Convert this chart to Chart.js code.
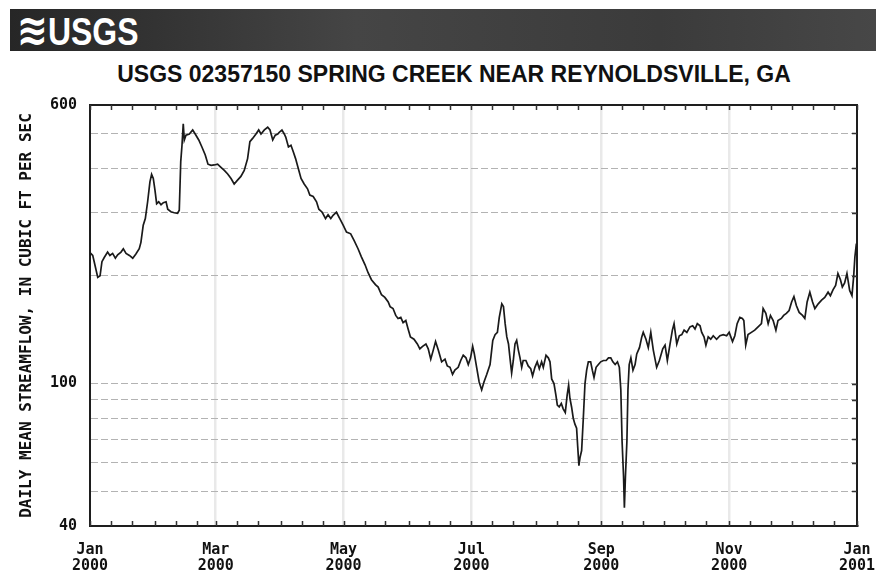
<!DOCTYPE html>
<html>
<head>
<meta charset="utf-8">
<script src="https://cdn.jsdelivr.net/npm/chart.js@4.4.1/dist/chart.umd.min.js"></script>
<style>
    html, body { margin: 0; padding: 0; background: #fff; }
    #wrap { position: relative; width: 876px; height: 571px; overflow: hidden; }
    #banner {
        position: absolute; left: 10px; top: 9px; width: 866px; height: 42px;
        background: linear-gradient(to right, #262626, #454545 40%, #3b3b3b 75%, #474747);
    }
    #logo {
        position: absolute; left: 7px; top: 0px; color: #fff; white-space: nowrap;
        font-family: 'Liberation Sans', Arial, sans-serif; font-weight: bold; font-size: 38px;
        line-height: 42px; transform: scaleX(0.84); transform-origin: left center;
    }
    #logo .waves { font-family: 'DejaVu Sans', sans-serif; font-size: 44px; margin-right: 0px; }
    #title {
        position: absolute; left: 0; top: 61px; width: 908px; text-align: center;
        font-family: 'Liberation Sans', Arial, sans-serif; font-weight: bold; font-size: 23px;
        color: #111;
    }
    canvas { position: absolute; left: 0; top: 0; }
</style>
</head>
<body>
<div id="wrap">
    <div id="banner"><div id="logo"><span class="waves">≋</span>USGS</div></div>
    <div id="title">USGS 02357150 SPRING CREEK NEAR REYNOLDSVILLE, GA</div>
    <canvas id="flowChart" width="876" height="571"></canvas>
</div>
<script>
// day of year 2000 (0 = Jan 1) and daily mean flow
const flowDays = [
    0, 1.3, 2.0, 3.7, 4.8, 5.7, 6.8, 8.4, 9.5, 10.8, 12.1, 13.2, 14.8, 15.9, 17.2, 18.8, 20.4, 21.9, 23.5, 24.3,
    25.4, 26.4, 27.5, 28.6, 29.4, 30.2, 31.0, 31.8, 32.8, 33.9, 35.0, 36.3, 37.1, 38.6, 40.2, 41.8, 42.6, 43.3, 43.9, 44.5,
    45.0, 45.8, 47.4, 49.0, 50.2, 51.9, 53.4, 55.0, 56.3, 57.8, 59.3, 60.9, 62.5, 64.1, 65.7, 67.3, 68.8, 70.4, 72.0, 73.6,
    75.2, 76.3, 77.6, 79.2, 80.5, 81.6, 83.2, 84.8, 85.9, 87.2, 88.4, 89.6, 90.3, 91.6, 92.7, 93.4, 94.7, 95.9, 97.0, 98.1,
    99.4, 100.7, 102.2, 103.8, 104.9, 106.5, 108.1, 109.2, 110.8, 112.4, 113.6, 114.9, 116.0, 117.6, 119.2, 120.8, 122.4, 124.4, 126.0, 127.9,
    129.5, 131.2, 132.7, 134.3, 136.2, 137.5, 139.1, 140.7, 142.3, 143.2, 144.6, 145.9, 147.0, 148.3, 149.4, 150.7, 151.8, 152.9, 154.6, 156.2,
    157.4, 158.7, 160.3, 161.4, 162.6, 163.8, 164.9, 166.2, 167.8, 169.4, 170.5, 171.8, 173.0, 174.1, 175.7, 176.9, 178.1, 179.4, 180.5, 181.6,
    182.6, 183.4, 184.5, 185.7, 186.9, 188.0, 189.3, 190.9, 192.2, 193.3, 194.4, 195.3, 196.5, 197.3, 198.1, 198.9, 199.7, 200.4, 201.2, 202.0,
    202.8, 203.6, 204.4, 205.2, 206.0, 206.7, 208.0, 209.1, 210.3, 211.2, 212.3, 213.4, 214.4, 215.5, 216.3, 217.6, 218.7, 219.5, 220.3, 221.4,
    222.3, 223.0, 223.9, 224.9, 225.8, 226.8, 227.7, 228.4, 229.0, 229.8, 230.6, 231.4, 232.2, 232.7, 233.3, 233.8, 234.6, 235.4, 236.2, 237.0,
    237.8, 238.9, 239.7, 240.5, 241.5, 242.6, 243.7, 245.0, 246.3, 247.4, 248.5, 249.5, 250.6, 251.7, 252.6, 253.3, 253.9, 254.6, 255.0, 255.5,
    256.2, 256.7, 257.3, 258.1, 259.1, 260.1, 260.9, 262.2, 263.3, 264.0, 265.3, 266.4, 267.6, 268.8, 270.4, 271.7, 273.3, 274.4, 275.5, 276.8,
    277.9, 278.7, 280.0, 281.2, 282.4, 283.5, 284.8, 286.3, 287.6, 288.7, 289.8, 291.1, 291.9, 293.0, 293.9, 295.0, 296.2, 297.4, 299.0, 300.6,
    302.2, 303.8, 305.0, 306.6, 307.7, 308.8, 310.1, 311.3, 312.0, 312.9, 314.0, 315.6, 317.2, 318.8, 320.4, 321.2, 322.5, 323.6, 324.7, 326.0,
    327.3, 328.3, 329.9, 331.0, 332.3, 333.6, 334.8, 335.9, 337.1, 338.4, 340.0, 341.1, 342.2, 343.5, 344.8, 345.9, 347.5, 349.1, 350.6, 352.2,
    353.3, 354.6, 355.8, 356.9, 358.1, 359.0, 360.1, 361.2, 362.5, 363.6, 364.4, 365.0, 365.7
];
const flowCfs = [
    232, 228, 219, 198, 200, 219, 225, 233, 228, 231, 224, 229, 233, 238, 231, 228, 224, 230, 238, 248,
    277, 289, 322, 366, 384, 374, 347, 318, 322, 316, 320, 322, 307, 302, 300, 299, 305, 417, 463, 532,
    479, 494, 498, 511, 498, 479, 458, 435, 410, 407, 408, 410, 402, 394, 385, 374, 361, 370, 379, 394,
    425, 474, 484, 498, 511, 498, 511, 520, 511, 479, 494, 498, 503, 511, 498, 488, 458, 463, 444, 425,
    399, 374, 361, 350, 336, 333, 322, 307, 301, 289, 296, 289, 295, 301, 289, 277, 265, 262, 251, 238,
    226, 215, 204, 195, 189, 186, 177, 174, 169, 164, 162, 155, 152, 153, 148, 150, 142, 135, 133, 129,
    125, 127, 129, 125, 117, 124, 131, 124, 115, 117, 112, 111, 106, 109, 111, 116, 120, 118, 113, 118,
    127, 121, 111, 101, 96, 101, 106, 113, 132, 137, 139, 153, 167, 164, 147, 135, 129, 118, 107, 116,
    129, 132, 124, 118, 111, 116, 116, 112, 110, 105, 111, 115, 110, 115, 111, 120, 118, 115, 103, 100,
    93, 87, 86, 88, 85, 83, 93, 99, 91, 86, 80, 77, 75, 67, 59, 62, 65, 80, 100, 109,
    115, 115, 109, 104, 111, 113, 115, 116, 116, 118, 118, 115, 113, 115, 111, 96, 69, 55, 45, 55,
    69, 96, 113, 118, 109, 113, 121, 126, 135, 139, 133, 126, 139, 124, 111, 116, 125, 128, 116, 129,
    141, 147, 129, 136, 137, 141, 139, 144, 145, 142, 147, 145, 139, 135, 128, 135, 133, 136, 133, 136,
    137, 136, 139, 131, 136, 147, 153, 152, 150, 128, 137, 139, 141, 144, 147, 162, 157, 147, 155, 150,
    141, 150, 152, 155, 157, 160, 169, 175, 165, 158, 155, 152, 169, 180, 169, 162, 167, 171, 174, 180,
    176, 183, 188, 203, 195, 186, 191, 203, 182, 176, 199, 226, 246
];

const monthStarts = [0, 31, 60, 91, 121, 152, 182, 213, 244, 274, 305, 335, 366];
const labeledDays = [0, 60, 121, 182, 244, 305, 366];
const labeledText = [['Jan', '2000'], ['Mar', '2000'], ['May', '2000'], ['Jul', '2000'], ['Sep', '2000'], ['Nov', '2000'], ['Jan', '2001']];
const yTicks = [40, 50, 60, 70, 80, 90, 100, 200, 300, 400, 500, 600];
const yLabeled = [40, 100, 600];

// minor tick marks on the 1st, 11th and 21st of each month
const minorDays = [];
monthStarts.slice(0, -1).forEach(d => { minorDays.push(d, d + 10, d + 20); });
minorDays.push(366);

const monoFont = { family: "'DejaVu Sans Mono', monospace", weight: 'bold', size: 15, lineHeight: 1.07 };

// small tick marks pointing into the plot from the top, bottom and right frame
const innerTicks = {
    id: 'innerTicks',
    afterDatasetsDraw(chart) {
        const { ctx, chartArea: a, scales } = chart;
        ctx.save();
        ctx.strokeStyle = '#333';
        ctx.lineWidth = 1.5;
        ctx.beginPath();
        scales.x.ticks.forEach(t => {
            const px = Math.round(scales.x.getPixelForValue(t.value)) + 0.5;
            ctx.moveTo(px, a.bottom);
            ctx.lineTo(px, a.bottom - 5);
            ctx.moveTo(px, a.top);
            ctx.lineTo(px, a.top + 5);
        });
        scales.yRight.ticks.forEach(t => {
            const py = Math.round(scales.yRight.getPixelForValue(t.value)) + 0.5;
            ctx.moveTo(a.right, py);
            ctx.lineTo(a.right - 5, py);
        });
        ctx.stroke();
        ctx.restore();
    }
};

document.addEventListener('DOMContentLoaded', function() {
    const ctx = document.getElementById('flowChart').getContext('2d');
    new Chart(ctx, {
        type: 'line',
        data: {
            datasets: [{
                data: flowDays.map((d, i) => ({ x: d, y: flowCfs[i] })),
                borderColor: '#1a1a1a',
                borderWidth: 1.7,
                pointRadius: 0,
                tension: 0,
                fill: false
            }]
        },
        plugins: [innerTicks],
        options: {
            responsive: false,
            animation: false,
            devicePixelRatio: 1,
            layout: { padding: { top: 105, right: 19, left: 0, bottom: 0 } },
            plugins: {
                legend: { display: false },
                tooltip: { enabled: false }
            },
            scales: {
                x: {
                    type: 'linear',
                    position: 'bottom',
                    min: 0,
                    max: 366,
                    afterBuildTicks: s => { s.ticks = minorDays.map(v => ({ value: v })); },
                    afterFit: s => { s.height = 45; s.paddingLeft = 0; s.paddingRight = 0; },
                    ticks: {
                        autoSkip: false,
                        maxRotation: 0,
                        padding: 16,
                        color: '#111',
                        font: monoFont,
                        callback: v => {
                            const i = labeledDays.indexOf(v);
                            return i >= 0 ? labeledText[i] : '';
                        }
                    },
                    grid: {
                        color: c => {
                            const v = c.tick ? c.tick.value : -1;
                            return (labeledDays.includes(v) && v > 0 && v < 366) ? '#e9e9e9' : 'rgba(0,0,0,0)';
                        },
                        lineWidth: 2.5,
                        drawTicks: false
                    },
                    border: { color: '#1e1e1e', width: 2 }
                },
                xTop: {
                    type: 'linear',
                    position: 'top',
                    min: 0,
                    max: 366,
                    afterFit: s => { s.height = 0; s.paddingLeft = 0; s.paddingRight = 0; },
                    ticks: { display: false },
                    grid: { drawOnChartArea: false, drawTicks: false },
                    border: { color: '#1e1e1e', width: 2 }
                },
                y: {
                    type: 'logarithmic',
                    position: 'left',
                    min: 40,
                    max: 600,
                    afterBuildTicks: s => { s.ticks = yTicks.map(v => ({ value: v })); },
                    afterFit: s => { s.width = 90; },
                    ticks: {
                        autoSkip: false,
                        padding: 13,
                        color: '#111',
                        font: monoFont,
                        callback: v => yLabeled.includes(v) ? String(v) : ''
                    },
                    grid: {
                        color: c => {
                            const v = c.tick ? c.tick.value : 0;
                            return (v === 40 || v === 600) ? 'rgba(0,0,0,0)' : '#b3b3b3';
                        },
                        lineWidth: 1,
                        drawTicks: false
                    },
                    border: { color: '#1e1e1e', width: 2, dash: [7, 3] },
                    title: {
                        display: true,
                        text: 'DAILY MEAN STREAMFLOW, IN CUBIC FT PER SEC',
                        color: '#111',
                        font: { family: "'DejaVu Sans Mono', monospace", weight: 'bold', size: 16, lineHeight: 1.2 },
                        padding: { top: 17, bottom: 0 }
                    }
                },
                yRight: {
                    type: 'logarithmic',
                    position: 'right',
                    min: 40,
                    max: 600,
                    afterBuildTicks: s => { s.ticks = yTicks.slice(1, -1).map(v => ({ value: v })); },
                    afterFit: s => { s.width = 0; },
                    ticks: { display: false },
                    grid: { drawOnChartArea: false, drawTicks: false },
                    border: { color: '#1e1e1e', width: 2 }
                }
            }
        }
    });
});
</script>
</body>
</html>
